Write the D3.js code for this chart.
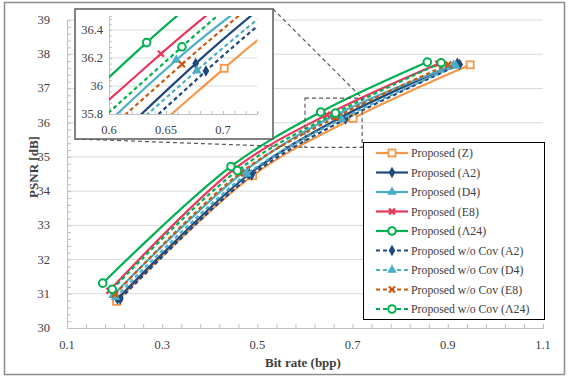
<!DOCTYPE html>
<html lang="en">

<head>
  <meta charset="utf-8">
  <title>PSNR vs bit rate</title>
  <script src="https://cdn.jsdelivr.net/npm/d3@7"></script>
  <style>
    body { margin: 0; background: #fff; }
    svg text { font-family: "Liberation Serif", "Times New Roman", serif; }
  </style>
</head>

<body>
  <svg id="chart" width="568" height="377"></svg>

  <script>
    // ---- data ----
    const seriesNames = ["Proposed (Z)", "Proposed (A2)", "Proposed (D4)", "Proposed (E8)", "Proposed (\u039B24)",
      "Proposed w/o Cov (A2)", "Proposed w/o Cov (D4)", "Proposed w/o Cov (E8)", "Proposed w/o Cov (\u039B24)"];

    const rateZ = [0.204, 0.490, 0.701, 0.947];
    const psnrZ = [30.78, 34.45, 36.126, 37.69];
    const rateA2 = [0.206, 0.483, 0.676, 0.920];
    const psnrA2 = [30.85, 34.50, 36.16, 37.74];
    const rateD4 = [0.197, 0.470, 0.659, 0.912];
    const psnrD4 = [30.96, 34.55, 36.186, 37.68];
    const rateE8 = [0.189, 0.452, 0.6456, 0.880];
    const psnrE8 = [31.09, 34.65, 36.23, 37.72];
    const rateL24 = [0.175, 0.4445, 0.633, 0.857];
    const psnrL24 = [31.31, 34.72, 36.31, 37.77];
    const rateA2w = [0.212, 0.488, 0.685, 0.925];
    const psnrA2w = [30.85, 34.47, 36.107, 37.70];
    const rateD4w = [0.202, 0.478, 0.677, 0.917];
    const psnrD4w = [30.90, 34.50, 36.11, 37.66];
    const rateE8w = [0.201, 0.463, 0.664, 0.901];
    const psnrE8w = [30.99, 34.52, 36.155, 37.70];
    const rateL24w = [0.195, 0.458, 0.664, 0.886];
    const psnrL24w = [31.13, 34.60, 36.28, 37.75];

    const rates = [rateZ, rateA2, rateD4, rateE8, rateL24, rateA2w, rateD4w, rateE8w, rateL24w];
    const psnrs = [psnrZ, psnrA2, psnrD4, psnrE8, psnrL24, psnrA2w, psnrD4w, psnrE8w, psnrL24w];

    const xTicks = [0.1, 0.3, 0.5, 0.7, 0.9, 1.1];
    const yTicks = [30, 31, 32, 33, 34, 35, 36, 37, 38, 39];
    const insetXTicks = [0.6, 0.65, 0.7];
    const insetYTicks = [35.8, 36, 36.2, 36.4];

    // ---- styles ----
    const styles = [
      { color: "#f79646", dash: null, marker: "square" },
      { color: "#1f497d", dash: null, marker: "diamond" },
      { color: "#4bacc6", dash: null, marker: "triangle" },
      { color: "#e6365b", dash: null, marker: "cross" },
      { color: "#00b050", dash: null, marker: "circle" },
      { color: "#1f497d", dash: "4,3", marker: "diamond" },
      { color: "#4bacc6", dash: "4,3", marker: "triangle" },
      { color: "#c55a11", dash: "4,3", marker: "cross" },
      { color: "#00b050", dash: "4,3", marker: "circle" }
    ];

    const series = seriesNames.map((name, i) => ({
      name: name,
      style: styles[i],
      points: rates[i].map((r, j) => ({ r: r, p: psnrs[i][j] }))
    }));

    const svg = d3.select("#chart");
    const grid = "#d9d9d9";
    const axisCol = "#bfbfbf";
    const textCol = "#404040";

    // outer frame
    svg.append("rect").attr("x", 4.5).attr("y", 2.5).attr("width", 560).attr("height", 372)
      .attr("fill", "#fff").attr("stroke", "#8c8c8c").attr("stroke-width", 1.5);

    // ---- main plot ----
    const x = d3.scaleLinear().domain([0.1, 1.1]).range([67, 543]);
    const y = d3.scaleLinear().domain([30, 39]).range([328, 20]);

    const main = svg.append("g");

    main.selectAll(".hgrid").data(yTicks.slice(1)).join("line")
      .attr("x1", x(0.1)).attr("x2", x(1.1))
      .attr("y1", d => y(d)).attr("y2", d => y(d))
      .attr("stroke", grid).attr("stroke-width", 1);

    // axes with inward minor ticks
    const xAxis = d3.axisTop(x).tickValues(d3.range(0.1, 1.1001, 0.04)).tickSize(4).tickFormat("");
    main.append("g").attr("transform", `translate(0,${y(30)})`).call(xAxis)
      .call(g => g.selectAll("path,line").attr("stroke", axisCol));
    const yAxis = d3.axisRight(y).tickValues(d3.range(30, 39.001, 0.2)).tickSize(4).tickFormat("");
    main.append("g").attr("transform", `translate(${x(0.1)},0)`).call(yAxis)
      .call(g => g.selectAll("path,line").attr("stroke", axisCol));

    main.selectAll(".xl").data(xTicks).join("text")
      .attr("x", d => x(d)).attr("y", 349).attr("text-anchor", "middle")
      .attr("font-size", 12.5).attr("fill", textCol).text(d => d3.format(".1f")(d));
    main.selectAll(".yl").data(yTicks).join("text")
      .attr("x", 50).attr("y", d => y(d) + 4).attr("text-anchor", "end")
      .attr("font-size", 12.5).attr("fill", textCol).text(d => d);

    main.append("text").attr("x", 303).attr("y", 367).attr("text-anchor", "middle")
      .attr("font-size", 13).attr("font-weight", "bold").attr("fill", textCol).text("Bit rate (bpp)");
    main.append("text").attr("transform", "translate(38,167) rotate(-90)").attr("text-anchor", "middle")
      .attr("font-size", 13).attr("font-weight", "bold").attr("fill", textCol).text("PSNR [dB]");

    // marker drawing
    function drawMarker(g, m, color) {
      if (m === "square") {
        g.append("rect").attr("x", -3.5).attr("y", -3.5).attr("width", 7).attr("height", 7)
          .attr("fill", "#fff").attr("stroke", color).attr("stroke-width", 1.8);
      } else if (m === "circle") {
        g.append("circle").attr("r", 3.8).attr("fill", "#fff").attr("stroke", color).attr("stroke-width", 2);
      } else if (m === "diamond") {
        g.append("path").attr("d", d3.symbol(d3.symbolDiamond, 38)()).attr("fill", color);
      } else if (m === "triangle") {
        g.append("path").attr("d", d3.symbol(d3.symbolTriangle, 40)()).attr("fill", color);
      } else if (m === "cross") {
        g.append("path").attr("d", "M-3,-3L3,3M-3,3L3,-3").attr("stroke", color).attr("stroke-width", 2.2);
      }
    }

    function drawSeries(parent, sx, sy, clipId, lw) {
      const line = d3.line().x(d => sx(d.r)).y(d => sy(d.p)).curve(d3.curveCatmullRom.alpha(0.5));
      const g = parent.append("g").attr("clip-path", `url(#${clipId})`);
      series.forEach(s => {
        g.append("path").attr("d", line(s.points)).attr("fill", "none")
          .attr("stroke", s.style.color).attr("stroke-width", lw)
          .attr("stroke-dasharray", s.style.dash);
        s.points.forEach(pt => {
          const mg = g.append("g").attr("transform", `translate(${sx(pt.r)},${sy(pt.p)})`);
          drawMarker(mg, s.style.marker, s.style.color);
        });
      });
    }

    const defs = svg.append("defs");
    defs.append("clipPath").attr("id", "clipMain").append("rect")
      .attr("x", x(0.1)).attr("y", y(39) - 5).attr("width", x(1.1) - x(0.1)).attr("height", y(30) - y(39) + 5);

    drawSeries(main, x, y, "clipMain", 2.2);

    // zoom rectangle + connectors
    const zx0 = 0.6, zx1 = 0.72, zy0 = 35.28, zy1 = 36.72;
    main.append("rect").attr("x", x(zx0)).attr("y", y(zy1)).attr("width", x(zx1) - x(zx0)).attr("height", y(zy0) - y(zy1))
      .attr("fill", "none").attr("stroke", "#595959").attr("stroke-width", 1.2).attr("stroke-dasharray", "4,3");

    // ---- inset ----
    const ib = { x0: 75, y0: 9, x1: 273, y1: 139 };
    main.append("line").attr("x1", ib.x1).attr("y1", ib.y0).attr("x2", x(zx1)).attr("y2", y(zy1))
      .attr("stroke", "#595959").attr("stroke-width", 1.2).attr("stroke-dasharray", "4,3");
    main.append("line").attr("x1", ib.x0).attr("y1", ib.y1).attr("x2", x(zx0)).attr("y2", y(zy0))
      .attr("stroke", "#595959").attr("stroke-width", 1.2).attr("stroke-dasharray", "4,3");

    const inset = svg.append("g");
    inset.append("rect").attr("x", ib.x0).attr("y", ib.y0).attr("width", ib.x1 - ib.x0).attr("height", ib.y1 - ib.y0)
      .attr("fill", "#fff").attr("stroke", "#595959").attr("stroke-width", 1.5);

    const ix = d3.scaleLinear().domain([0.6, 0.73]).range([109, 257.2]);
    const iy = d3.scaleLinear().domain([35.8, 36.5]).range([114, 16]);

    inset.selectAll(".ihgrid").data(insetYTicks.slice(1)).join("line")
      .attr("x1", ix(0.6)).attr("x2", ix(0.73))
      .attr("y1", d => iy(d)).attr("y2", d => iy(d))
      .attr("stroke", grid);

    inset.append("g").attr("transform", `translate(0,${iy(35.8)})`)
      .call(d3.axisTop(ix).tickValues(d3.range(0.6, 0.7301, 0.01)).tickSize(3).tickFormat(""))
      .call(g => g.selectAll("path,line").attr("stroke", axisCol));
    inset.append("g").attr("transform", `translate(${ix(0.6)},0)`)
      .call(d3.axisRight(iy).tickValues(d3.range(35.8, 36.5001, 0.04)).tickSize(3).tickFormat(""))
      .call(g => g.selectAll("path,line").attr("stroke", axisCol));

    inset.selectAll(".ixl").data(insetXTicks).join("text")
      .attr("x", d => ix(d)).attr("y", 134).attr("text-anchor", "middle")
      .attr("font-size", 12.5).attr("fill", textCol).text(d => d);
    inset.selectAll(".iyl").data(insetYTicks).join("text")
      .attr("x", 103).attr("y", d => iy(d) + 4).attr("text-anchor", "end")
      .attr("font-size", 12.5).attr("fill", textCol).text(d => d);

    defs.append("clipPath").attr("id", "clipInset").append("rect")
      .attr("x", ix(0.6)).attr("y", iy(36.5)).attr("width", ix(0.73) - ix(0.6)).attr("height", iy(35.8) - iy(36.5));
    drawSeries(inset, ix, iy, "clipInset", 2.2);

    // ---- legend ----
    const leg = svg.append("g");
    leg.append("rect").attr("x", 363.5).attr("y", 142.5).attr("width", 181).attr("height", 177)
      .attr("fill", "#fff").attr("stroke", "#000").attr("stroke-width", 1);
    series.forEach((s, i) => {
      const ly = 153 + i * 19.5;
      const g = leg.append("g").attr("transform", `translate(0,${ly})`);
      g.append("line").attr("x1", 376).attr("x2", 408).attr("y1", 0).attr("y2", 0)
        .attr("stroke", s.style.color).attr("stroke-width", 2.2).attr("stroke-dasharray", s.style.dash);
      drawMarker(g.append("g").attr("transform", "translate(392,0)"), s.style.marker, s.style.color);
      g.append("text").attr("x", 411).attr("y", 4).attr("font-size", 11.8).attr("fill", textCol).text(s.name);
    });
  </script>
</body>

</html>
